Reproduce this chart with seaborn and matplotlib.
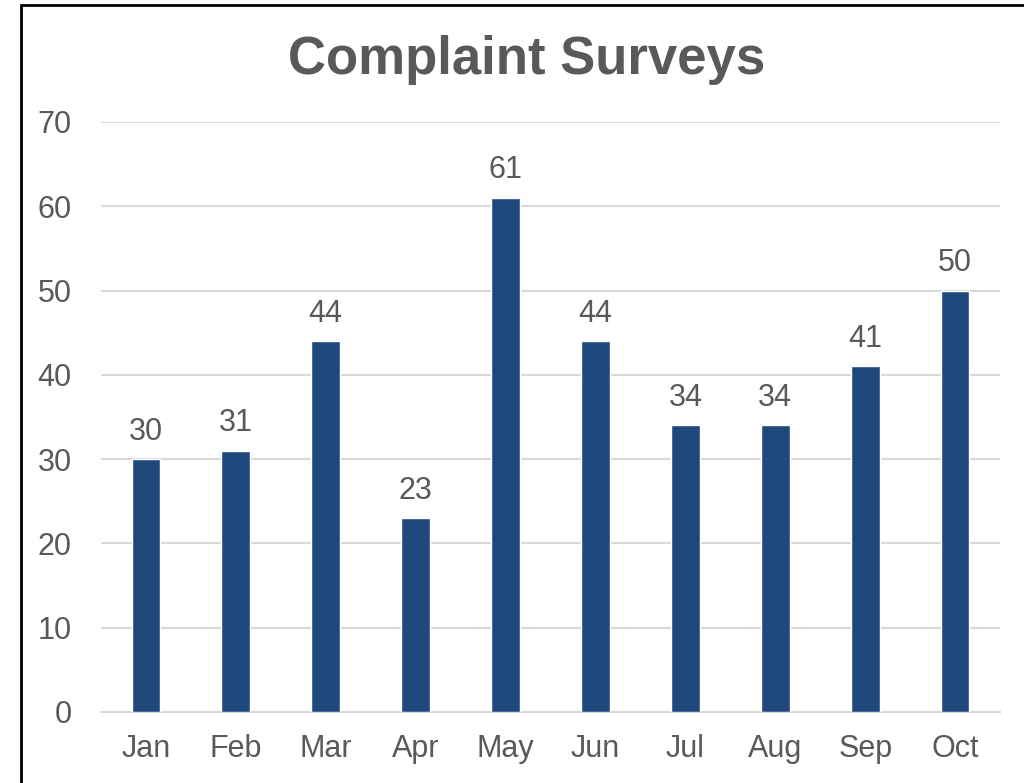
import matplotlib
matplotlib.use("Agg")
import matplotlib.pyplot as plt
import seaborn as sns
import pandas as pd
from matplotlib.patches import Rectangle

# data
months = ["Jan", "Feb", "Mar", "Apr", "May", "Jun", "Jul", "Aug", "Sep", "Oct"]
complaints = [30, 31, 44, 23, 61, 44, 34, 34, 41, 50]
y_ticks = [0, 10, 20, 30, 40, 50, 60, 70]

bar_color = "#1F497D"
text_color = "#595959"
grid_color = "#D9D9D9"

sns.set_theme(style="white")
plt.rcParams["font.family"] = ["Liberation Sans", "DejaVu Sans"]

df = pd.DataFrame({"month": months, "count": complaints})

fig = plt.figure(figsize=(10.24, 7.83), dpi=100)
ax = fig.add_axes([0.0986, 0.0907, 0.8780, 0.7535])

sns.barplot(data=df, x="month", y="count", color=bar_color, width=0.32,
            saturation=1, ax=ax, zorder=3)

ax.set_xlim(-0.5, len(months) - 0.5)
ax.set_ylim(0, 70)
ax.set_yticks(y_ticks)
ax.yaxis.grid(True, color=grid_color, linewidth=1.5, zorder=0)
ax.set_axisbelow(True)

for side in ["left", "right", "top"]:
    ax.spines[side].set_visible(False)
ax.spines["bottom"].set_color(grid_color)
ax.spines["bottom"].set_linewidth(1.5)

ax.tick_params(axis="both", length=0, labelsize=22, colors=text_color)
ax.tick_params(axis="y", pad=21)
ax.tick_params(axis="x", pad=16)
ax.set_xlabel("")
ax.set_ylabel("")

ax.bar_label(ax.containers[0], fmt="%d", padding=9, fontsize=22,
             color=text_color)

fig.text(0.514, 0.924, "Complaint Surveys", ha="center", va="center",
         fontsize=38, fontweight="bold", color=text_color)

# chart frame (only left and top visible in the crop)
fig.patches.append(Rectangle((21 / 1024, -0.05), 1.2, 1 - 5 / 783 + 0.05,
                             transform=fig.transFigure, fill=False,
                             edgecolor="black", linewidth=2))

fig.savefig("out.png", dpi=100, facecolor="white")
